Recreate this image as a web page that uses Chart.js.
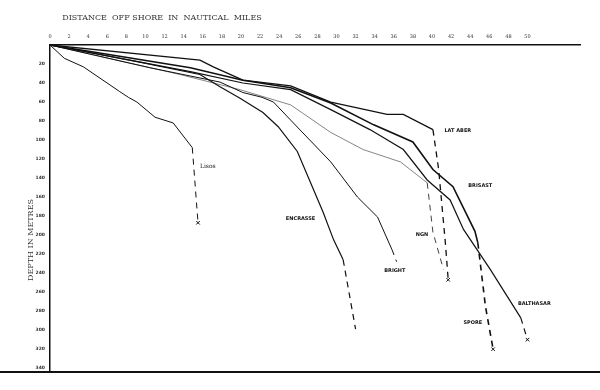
<!DOCTYPE html>
<html>
<head>
<meta charset="utf-8">
<script src="https://cdn.jsdelivr.net/npm/chart.js@4.4.1/dist/chart.umd.min.js"></script>
<style>
  html, body { margin: 0; padding: 0; background: #fff; }
  #wrap { width: 600px; height: 390px; position: relative; }
</style>
</head>
<body>
<div id="wrap"><canvas id="perfil"></canvas></div>
<script>
// distance off shore (nautical miles) and depth (metres) for each profile
const profileNames = ['Lisos', 'ENCRASSE', 'BRIGHT', 'NGN', 'LAT ABER', 'BRISAST', 'BALTHASAR'];

const lisosMiles  = [0, 1.5, 3.5, 7.3, 8.2, 9.1, 11, 12.9, 14.9, 15.5];
const lisosDepth  = [0, 14, 23, 49, 55, 60, 76, 82, 108, 187];

const encrMiles   = [0, 9.4, 15.7, 17.8, 19.9, 22.3, 23.9, 25.9, 28.6, 29.7, 30.7, 32];
const encrDepth   = [0, 18, 31, 44, 56, 71, 86, 112, 176, 205, 226, 299];

const brightMiles = [0, 10.5, 17.8, 20.2, 22.2, 23.4, 25.2, 29.4, 32.2, 34.3, 35.8, 36.3];
const brightDepth = [0, 24, 39, 50, 55, 60, 79, 123, 160, 181, 215, 228];

const ngnMiles    = [0, 13.6, 19.9, 25.2, 29.4, 32.8, 36.7, 39.5, 40.1, 41.2];
const ngnDepth    = [0, 31, 47, 63, 92, 110, 123, 145, 197, 236];

const laMiles     = [0, 15.7, 17.1, 20.2, 25.2, 29.4, 35.3, 37, 40.1, 40.7, 41.4, 41.7];
const laDepth     = [0, 16, 23, 37, 43, 60, 73, 73, 89, 131, 208, 247];

const brisMiles   = [0, 14.7, 20.2, 25.2, 29.4, 33.9, 38, 40.1, 42.2, 44.5, 44.8, 45.6, 46.4];
const brisDepth   = [0, 24, 37, 45, 61, 84, 102, 131, 149, 196, 208, 275, 320];

const balMiles    = [0, 14.7, 20.2, 25.2, 29.4, 33.5, 37, 39.5, 41.9, 43.3, 46.1, 49.3, 50];
const balDepth    = [0, 28, 40, 47, 68, 89, 110, 142, 163, 194, 236, 287, 310];

// index of the first point after which the profile is dashed
const dashFrom    = [8, 10, 10, 7, 8, 10, 11];
// does the profile end with a cross
const endCross    = [true, false, false, false, true, true, true];
const lineWidths  = [1, 1.2, 1, 0.8, 1.3, 1.6, 1.2];
const lineColors  = ['#111', '#111', '#111', '#666', '#111', '#111', '#111'];

// label positions (miles, metres)
const labelMiles  = [15.7, 24.7, 35, 38.3, 41.3, 43.8, 49];
const labelDepth  = [128, 183, 237, 200, 90, 148, 272];
const spore = { text: 'SPORE', miles: 43.3, depth: 292 };

const xTicks = [0, 2, 4, 6, 8, 10, 12, 14, 16, 18, 20, 22, 24, 26, 28, 30, 32, 34, 36, 38, 40, 42, 44, 46, 48, 50];
const yTicks = [20, 40, 60, 80, 100, 120, 140, 160, 180, 200, 220, 240, 260, 280, 300, 320, 340];

const allMiles = [lisosMiles, encrMiles, brightMiles, ngnMiles, laMiles, brisMiles, balMiles];
const allDepth = [lisosDepth, encrDepth, brightDepth, ngnDepth, laDepth, brisDepth, balDepth];

const datasets = profileNames.map((name, i) => {
  const pts = allMiles[i].map((m, j) => ({ x: m, y: allDepth[i][j] }));
  const n = pts.length;
  return {
    label: name,
    data: pts,
    borderColor: lineColors[i],
    backgroundColor: '#111',
    borderWidth: lineWidths[i],
    tension: 0,
    pointStyle: 'crossRot',
    pointRadius: pts.map((p, j) => (endCross[i] && j === n - 1) ? 2.5 : 0),
    pointBorderColor: '#111',
    pointBorderWidth: 1,
    segment: {
      borderDash: c => c.p0DataIndex >= dashFrom[i] ? [6, 5] : undefined,
      borderColor: c => c.p0DataIndex >= dashFrom[i] ? '#111' : lineColors[i]
    }
  };
});

const textPlugin = {
  id: 'textos',
  afterDraw(chart) {
    const { ctx, scales } = chart;
    ctx.save();
    ctx.fillStyle = '#333';
    ctx.font = '8px "DejaVu Serif", serif';
    ctx.textBaseline = 'middle';
    ctx.textAlign = 'center';
    ctx.fillText('DISTANCE  OFF SHORE  IN  NAUTICAL  MILES', 162, 18);
    ctx.translate(31, 240);
    ctx.rotate(-Math.PI / 2);
    ctx.fillText('DEPTH IN METRES', 0, 0);
    ctx.restore();

    ctx.save();
    ctx.fillStyle = '#111';
    ctx.textBaseline = 'middle';
    ctx.textAlign = 'left';
    profileNames.forEach((name, i) => {
      ctx.font = i === 0 ? '6px "DejaVu Serif", serif' : 'bold 5px "DejaVu Sans", sans-serif';
      ctx.fillText(name, scales.x.getPixelForValue(labelMiles[i]), scales.y.getPixelForValue(labelDepth[i]));
    });
    ctx.font = 'bold 5px "DejaVu Sans", sans-serif';
    ctx.fillText(spore.text, scales.x.getPixelForValue(spore.miles), scales.y.getPixelForValue(spore.depth));
    ctx.restore();

    // heavy base line of the sheet
    ctx.save();
    ctx.strokeStyle = '#111';
    ctx.lineWidth = 2;
    ctx.beginPath();
    ctx.moveTo(0, chart.chartArea.bottom);
    ctx.lineTo(600, chart.chartArea.bottom);
    ctx.stroke();
    ctx.restore();
  }
};

new Chart(document.getElementById('perfil'), {
  type: 'line',
  data: { datasets },
  options: {
    responsive: true,
    maintainAspectRatio: false,
    animation: false,
    layout: { padding: { left: 0, top: 0, right: 20, bottom: 18 } },
    plugins: { legend: { display: false }, tooltip: { enabled: false } },
    scales: {
      x: {
        type: 'linear',
        position: 'top',
        min: 0,
        max: 55.5,
        afterBuildTicks: s => { s.ticks = xTicks.map(v => ({ value: v })); },
        afterFit: s => { s.height = 45; },
        grid: { display: false, drawTicks: false },
        border: { color: '#111', width: 1.5 },
        ticks: { color: '#333', font: { size: 5, family: '"DejaVu Serif", serif' }, padding: 5, maxRotation: 0 }
      },
      y: {
        type: 'linear',
        reverse: true,
        min: 0,
        max: 344,
        afterBuildTicks: s => { s.ticks = yTicks.map(v => ({ value: v })); },
        afterFit: s => { s.width = 50; },
        grid: { display: false, drawTicks: false },
        border: { color: '#111', width: 1.5 },
        ticks: { color: '#333', font: { size: 4.5, weight: 'bold', family: '"DejaVu Sans", sans-serif' }, padding: 5 }
      }
    }
  },
  plugins: [textPlugin]
});
</script>
</body>
</html>
